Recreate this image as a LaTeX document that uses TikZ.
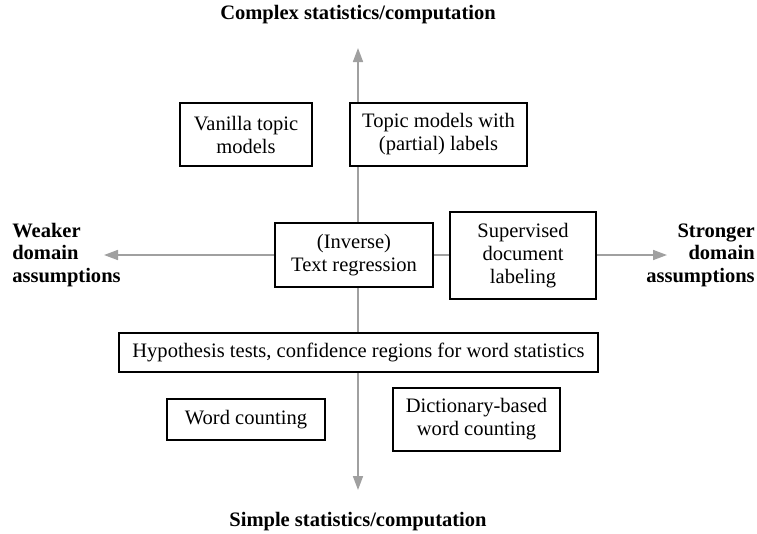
\documentclass[tikz,border=0pt]{standalone}
\usepackage{fontspec}
\setmainfont{Liberation Serif}
\usetikzlibrary{arrows.meta}
\definecolor{axisgray}{HTML}{A0A0A0}
\tikzset{
  box/.style={draw=black, line width=1.1pt, fill=white, align=center, inner sep=0pt,
    font=\fontsize{15.4}{17.25}\selectfont},
  axis/.style={draw=axisgray, line width=1.2pt,
    -{Triangle[length=10.5pt,width=7.5pt]}},
  lab/.style={font=\fontsize{15.4}{16.8}\selectfont\bfseries, inner sep=0pt}
}
\begin{document}
\begin{tikzpicture}[x=0.75pt,y=-0.75pt]
\useasboundingbox (0,0) rectangle (757,533);
% axes
\coordinate (O) at (358,255);
\coordinate (top) at (358,48);
\coordinate (bottom) at (358,490);
\coordinate (left) at (104,255);
\coordinate (right) at (667,255);
\draw[axis] (O) -- (top);
\draw[axis] (O) -- (bottom);
\draw[axis] (O) -- (left);
\draw[axis] (O) -- (right);
% boxes
\node[box, minimum width=99pt, minimum height=47.25pt] (vanilla) at (246,134.5) {Vanilla topic\\models};
\node[box, minimum width=132.75pt, minimum height=47.25pt] (topic) at (438.5,134.5) {Topic models with\\(partial) labels};
\node[box, minimum width=118.5pt, minimum height=48pt] (inverse) at (354,255) {(Inverse)\\Text regression};
\node[box, minimum width=109.5pt, minimum height=65.25pt] (superv) at (523,255.5) {Supervised\\document\\labeling};
\node[box, minimum width=359.25pt, minimum height=29.25pt] (hypo) at (358.5,352.5) {Hypothesis tests, confidence regions for word statistics};
\node[box, minimum width=118.5pt, minimum height=30.75pt] (word) at (246,419.5) {Word counting};
\node[box, minimum width=125.25pt, minimum height=47.25pt] (dict) at (476.5,419.5) {Dictionary-based\\word counting};
% axis labels
\node[lab] (complex) at (358,15) {Complex statistics/computation};
\node[lab] (simple) at (358,522) {Simple statistics/computation};
\node[lab, align=left, anchor=west] (weaker) at (12,255) {Weaker\\domain\\assumptions};
\node[lab, align=right, anchor=east] (stronger) at (755,255) {Stronger\\domain\\assumptions};
\end{tikzpicture}
\end{document}
